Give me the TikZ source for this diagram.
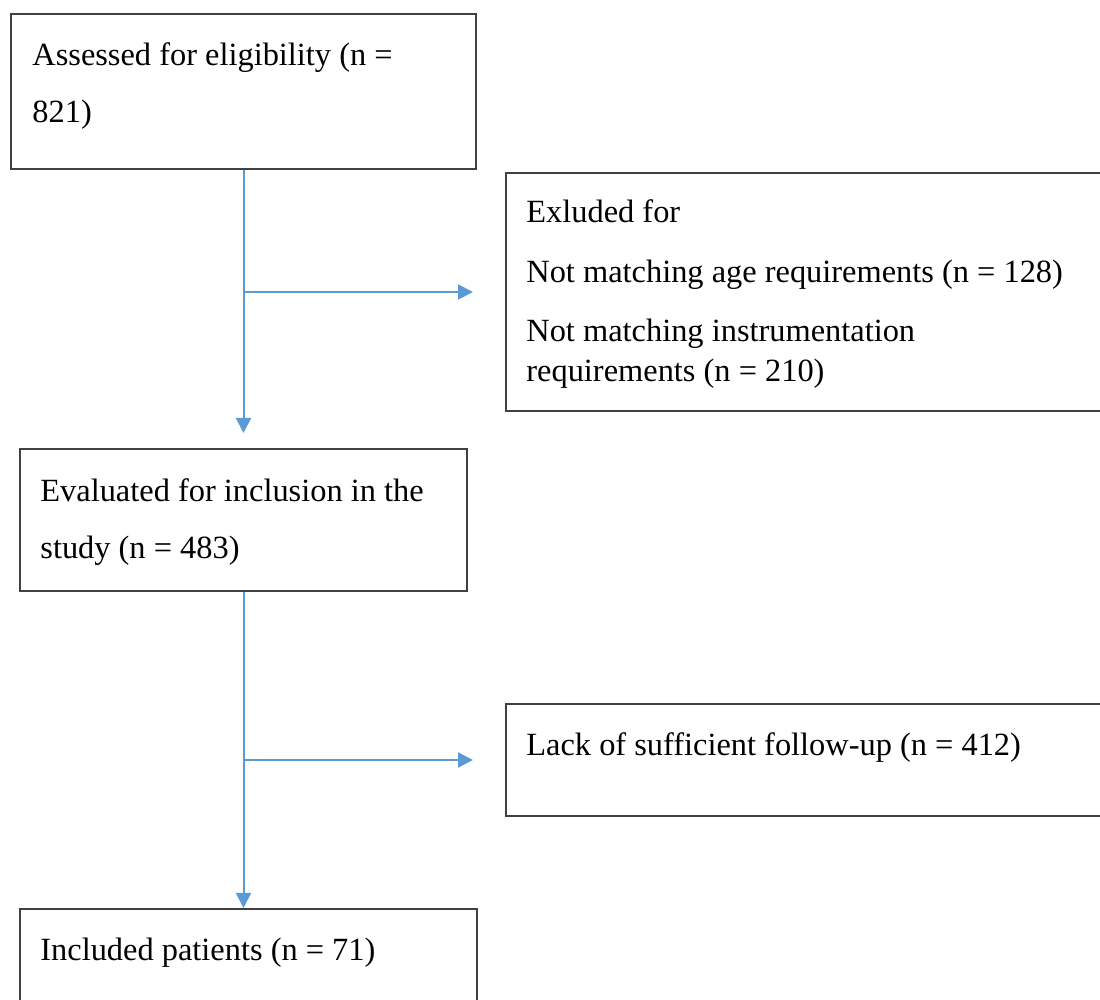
\documentclass[tikz,border=0pt]{standalone}
\usepackage{fontspec}
\setmainfont{Liberation Serif}
\usepackage{tikz}
\usetikzlibrary{positioning,arrows.meta}
\definecolor{boxgray}{RGB}{64,64,64}
\definecolor{arrowblue}{RGB}{91,155,213}
\tikzset{
  flowbox/.style={draw=boxgray, line width=1pt, anchor=north west, inner sep=0pt},
  flowtext/.style={anchor=base west, inner sep=0pt, align=flush left, text width=300pt, font=\fontsize{16.2pt}{20pt}\selectfont},
  flowarrow/.style={-{Triangle[length=7.5pt, width=7.5pt]}, draw=arrowblue, line width=1pt}
}

\begin{document}
\begin{tikzpicture}[x=0.5pt, y=-0.5pt]
      \useasboundingbox (0,0) rectangle (1100,1000);
      \clip (0,0) rectangle (1100,1000);
      \node[flowbox, minimum width=232.5pt, minimum height=77.5pt] (assess) at (10,13) {};
      \node[flowbox, minimum width=310pt, minimum height=119pt] (excluded) at (505,172) {};
      \node[flowbox, minimum width=223.5pt, minimum height=71pt] (eval) at (19,448) {};
      \node[flowbox, minimum width=310pt, minimum height=56pt] (followup) at (505,703) {};
      \node[flowbox, minimum width=228.5pt, minimum height=58pt] (incl) at (19,908) {};
      \node[flowtext] (assesstxt) at ([xshift=11pt, yshift=-26.5pt]assess.north west) {Assessed for eligibility (n =\\[8.5pt]821)};
      \node[flowtext] (excludedtxt) at ([xshift=10.5pt, yshift=-25.5pt]excluded.north west) {Exluded for\\[9.75pt]Not matching age requirements (n = 128)\\[9.75pt]Not matching instrumentation\\requirements (n = 210)};
      \node[flowtext] (evaltxt) at ([xshift=10.5pt, yshift=-27pt]eval.north west) {Evaluated for inclusion in the\\[8.5pt]study (n = 483)};
      \node[flowtext] (followuptxt) at ([xshift=10.5pt, yshift=-26.5pt]followup.north west) {Lack of sufficient follow-up (n = 412)};
      \node[flowtext] (incltxt) at ([xshift=10.5pt, yshift=-26pt]incl.north west) {Included patients (n = 71)};
      \coordinate (split1) at (assess.south |- excluded.west);
      \coordinate (split2) at (eval.south |- followup.west);
      \draw[flowarrow] (assess.south) -- ([yshift=7.5pt]eval.north);
      \draw[flowarrow] (split1) -- ([xshift=-16pt]excluded.west);
      \draw[flowarrow] (eval.south) -- (eval.south |- incl.north);
      \draw[flowarrow] (split2) -- ([xshift=-16pt]followup.west);
    \end{tikzpicture}
\end{document}
